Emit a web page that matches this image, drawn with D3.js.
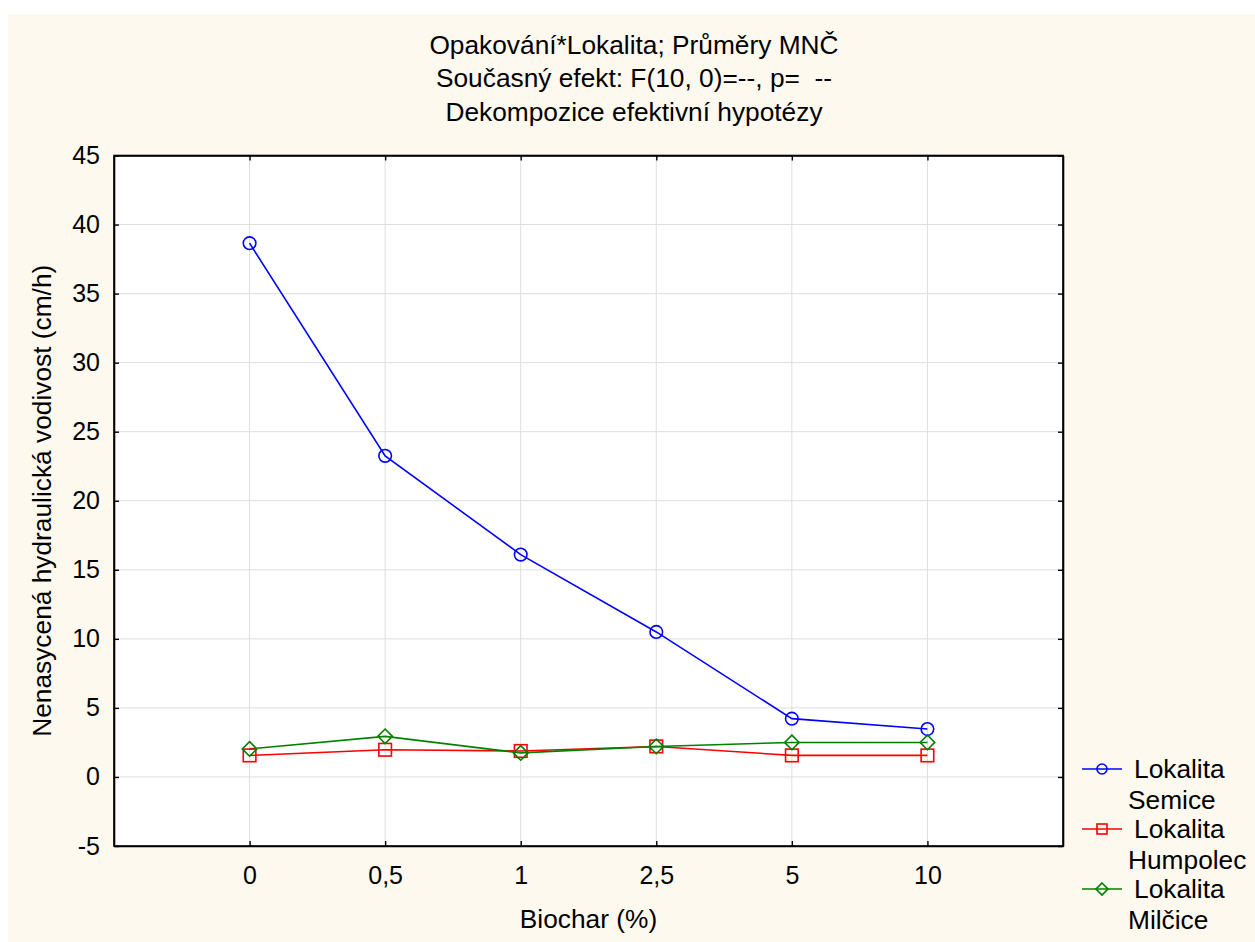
<!DOCTYPE html>
<html><head><meta charset="utf-8">
<script src="https://cdn.jsdelivr.net/npm/d3@7"></script>
<style>
html,body{margin:0;padding:0;background:#fff;}
svg{display:block;font-family:"Liberation Sans",Arial,Helvetica,sans-serif;}
</style></head>
<body>
<svg id="c" width="1255" height="942"></svg>
<script>
const categories = ["0", "0,5", "1", "2,5", "5", "10"];
const semice   = [38.65, 23.25, 16.1, 10.5, 4.22, 3.47];
const humpolec = [1.56, 1.97, 1.88, 2.21, 1.56, 1.56];
const milcice  = [2.03, 2.94, 1.74, 2.21, 2.5, 2.5];
const yTicks = [-5, 0, 5, 10, 15, 20, 25, 30, 35, 40, 45];
const titleLines = ["Opakování*Lokalita; Průměry MNČ", "Současný efekt: F(10, 0)=--, p=  --", "Dekompozice efektivní hypotézy"];
const seriesNames = [["Lokalita", "Semice"], ["Lokalita", "Humpolec"], ["Lokalita", "Milčice"]];

const series = [
  {name: seriesNames[0], values: semice, color: "#0000ff", shape: "circle"},
  {name: seriesNames[1], values: humpolec, color: "#ff0000", shape: "square"},
  {name: seriesNames[2], values: milcice, color: "#008000", shape: "diamond"}
];

const svg = d3.select("#c");
const L = 114, R = 1063, T = 155.5, B = 846;
const FS = 25, FT = 26.3;

svg.append("rect").attr("x", 8).attr("y", 14).attr("width", 1255 - 8).attr("height", 942 - 14).attr("fill", "#fdf9ef");
svg.append("rect").attr("x", L).attr("y", T).attr("width", R - L).attr("height", B - T).attr("fill", "#fff");

const x = d3.scalePoint().domain(categories).range([L, R]).padding(1);
const y = d3.scaleLinear().domain([-5, 45]).range([B, T]);

// grid
const g = svg.append("g");
g.selectAll(".gy").data(yTicks.slice(1, -1)).join("line")
  .attr("x1", L).attr("x2", R).attr("y1", d => y(d)).attr("y2", d => y(d))
  .attr("stroke", "#dedede").attr("stroke-width", 1);
g.selectAll(".gx").data(categories).join("line")
  .attr("x1", d => x(d)).attr("x2", d => x(d)).attr("y1", T).attr("y2", B)
  .attr("stroke", "#dedede").attr("stroke-width", 1);

// axes
const axL = d3.axisLeft(y).tickValues(yTicks).tickSizeInner(-5).tickSizeOuter(0).tickPadding(14).tickFormat(d => String(d));
const axR = d3.axisRight(y).tickValues(yTicks).tickSizeInner(-5).tickSizeOuter(0).tickFormat("");
const axB = d3.axisBottom(x).tickSizeInner(-5).tickSizeOuter(0).tickPadding(20);
const axT = d3.axisTop(x).tickSizeInner(-5).tickSizeOuter(0).tickFormat("");

function style(sel) {
  sel.selectAll("path").attr("stroke", "#000").attr("stroke-width", 1.6);
  sel.selectAll("line").attr("stroke", "#000").attr("stroke-width", 1.4);
  sel.selectAll("text").attr("fill", "#000").style("font-size", FS + "px").style("font-family", "Liberation Sans, Arial, sans-serif");
}
svg.append("g").attr("transform", `translate(${L},0)`).call(axL).call(style);
svg.append("g").attr("transform", `translate(${R},0)`).call(axR).call(style);
svg.append("g").attr("transform", `translate(0,${B})`).call(axB).call(style);
svg.append("g").attr("transform", `translate(0,${T})`).call(axT).call(style);

// frame
svg.append("rect").attr("x", L).attr("y", T).attr("width", R - L).attr("height", B - T)
  .attr("fill", "none").attr("stroke", "#000").attr("stroke-width", 1.6);

// markers
function marker(sel, shape, size, color) {
  if (shape === "circle") {
    sel.append("circle").attr("r", size).attr("fill", "none").attr("stroke", color).attr("stroke-width", 1.6);
  } else if (shape === "square") {
    sel.append("rect").attr("x", -size).attr("y", -size).attr("width", 2 * size).attr("height", 2 * size)
      .attr("fill", "none").attr("stroke", color).attr("stroke-width", 1.6);
  } else {
    const s = size + 1;
    sel.append("path").attr("d", `M0,${-s}L${s},0L0,${s}L${-s},0Z`)
      .attr("fill", "none").attr("stroke", color).attr("stroke-width", 1.6);
  }
}

const line = d3.line().x((d, i) => x(categories[i])).y(d => y(d));
series.forEach(s => {
  svg.append("path").datum(s.values).attr("d", line).attr("fill", "none")
    .attr("stroke", s.color).attr("stroke-width", 1.6);
});
series.forEach(s => {
  s.values.forEach((v, i) => {
    const m = svg.append("g").attr("transform", `translate(${x(categories[i])},${y(v)})`);
    marker(m, s.shape, 6.3, s.color);
  });
});

// titles
titleLines.forEach((t, i) => {
  svg.append("text").attr("x", 634).attr("y", 53.5 + i * 33.5).attr("text-anchor", "middle")
    .style("font-size", FT + "px").style("white-space", "pre").text(t);
});
svg.append("text").attr("x", (L + R) / 2).attr("y", 928).attr("text-anchor", "middle")
  .style("font-size", FT + "px").text("Biochar (%)");
svg.append("text").attr("transform", `translate(51,${(T + B) / 2}) rotate(-90)`).attr("text-anchor", "middle")
  .style("font-size", FT + "px").text("Nenasycená hydraulická vodivost (cm/h)");

// legend
series.forEach((s, i) => {
  const ly = 769 + i * 60;
  const lg = svg.append("g");
  lg.append("line").attr("x1", 1082).attr("x2", 1122).attr("y1", ly).attr("y2", ly)
    .attr("stroke", s.color).attr("stroke-width", 1.6);
  const m = lg.append("g").attr("transform", `translate(1102,${ly})`);
  marker(m, s.shape, 5, s.color);
  lg.append("text").attr("x", 1134).attr("y", ly + 9).style("font-size", FT + "px").text(s.name[0]);
  lg.append("text").attr("x", 1128).attr("y", ly + 40).style("font-size", FT + "px").text(s.name[1]);
});
</script>
</body></html>
